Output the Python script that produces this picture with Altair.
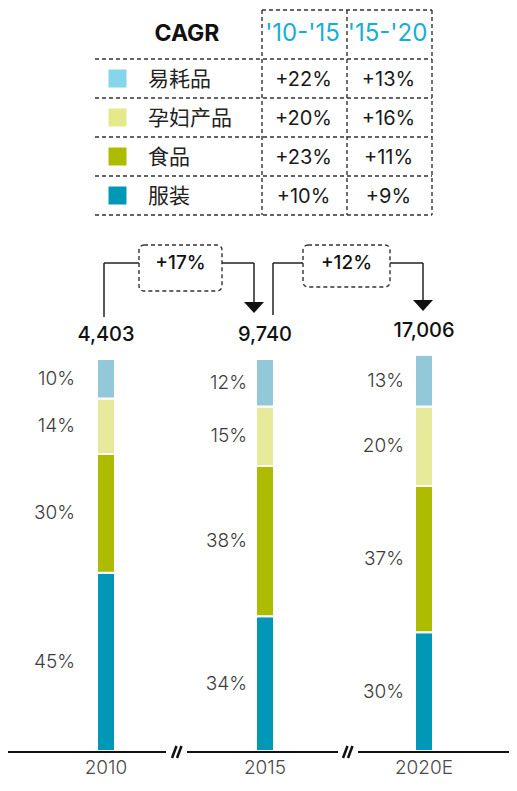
import altair as alt
import pandas as pd

# ---------------- data ----------------
categories = ["易耗品", "孕妇产品", "食品", "服装"]          # table order (top -> bottom)
cagr_periods = ["'10-'15", "'15-'20"]
cagr_10_15 = [22, 20, 23, 10]
cagr_15_20 = [13, 16, 11, 9]

years = ["2010", "2015", "2020E"]
totals = [4403, 9740, 17006]
share_consumables = [10, 12, 13]   # 易耗品
share_maternity = [14, 15, 20]     # 孕妇产品
share_food = [30, 38, 37]          # 食品
share_apparel = [45, 34, 30]       # 服装
period_growth = [17, 12]

# ---------------- styles / layout ----------------
legend_colors = ["#86D5E8", "#E4EA8A", "#ADBC00", "#0098B6"]
bar_colors = ["#92C8D7", "#E6EA9A", "#ADBC00", "#0098B6"]
CYAN = "#17AED5"
LATIN = "Inter"
CJK = "Noto Sans CJK SC"
DASH = [4, 3]
W, H = 501, 772

one = pd.DataFrame({"d": [0]})

# ---------------- table ----------------
tx = alt.Scale(domain=[0.5, 2.5], range=[254, 424], nice=False, zero=False, padding=0)
ty = alt.Scale(domain=[0.5, 4.5], range=[51, 207], nice=False, zero=False, padding=0)

row_df = pd.DataFrame({"category": categories, "row": list(range(1, len(categories) + 1))})
cell_rows = []
for r, cat in enumerate(categories, start=1):
    for c, vals in enumerate([cagr_10_15, cagr_15_20], start=1):
        cell_rows.append({"category": cat, "row": r, "col": c, "txt": f"+{vals[r - 1]}%"})
cell_df = pd.DataFrame(cell_rows)
head_df = pd.DataFrame({"period": cagr_periods, "col": [1, 2]})
hline_df = pd.DataFrame({"b": [k + 0.5 for k in range(len(categories) + 1)]})
vline_df = pd.DataFrame({"b": [0.5, 1.5, 2.5]})
top_df = pd.DataFrame({"a": [0.5], "b": [2.5]})

grid_style = dict(color="#333333", strokeWidth=1.4, strokeDash=DASH)

t_hlines = alt.Chart(hline_df).mark_rule(**grid_style).encode(
    y=alt.Y("b:Q", scale=ty, axis=None), x=alt.value(87), x2=alt.value(424))
t_vlines = alt.Chart(vline_df).mark_rule(**grid_style).encode(
    x=alt.X("b:Q", scale=tx, axis=None), y=alt.value(2), y2=alt.value(207))
t_top = alt.Chart(top_df).mark_rule(**grid_style).encode(
    x=alt.X("a:Q", scale=tx, axis=None), x2="b:Q", y=alt.value(2))
t_cagr = alt.Chart(one).mark_text(font=LATIN, fontSize=23, fontWeight="bold", color="#111111",
                                  align="center", baseline="middle").encode(
    x=alt.value(179), y=alt.value(26), text=alt.value("CAGR"))
t_head = alt.Chart(head_df).mark_text(font=LATIN, fontSize=24, color=CYAN, align="center",
                                      baseline="middle", dx=-2).encode(
    x=alt.X("col:Q", scale=tx, axis=None), y=alt.value(26), text="period:N")
t_sq = alt.Chart(row_df).mark_square(size=324, opacity=1).encode(
    x=alt.value(109.5), y=alt.Y("row:Q", scale=ty, axis=None),
    color=alt.Color("category:N", scale=alt.Scale(domain=categories, range=legend_colors), legend=None))
t_cat = alt.Chart(row_df).mark_text(font=CJK, fontSize=21, color="#222222", align="left",
                                    baseline="middle", dy=1).encode(
    x=alt.value(140), y=alt.Y("row:Q", scale=ty, axis=None), text="category:N")
t_val = alt.Chart(cell_df).mark_text(font=LATIN, fontSize=20, color="#1a1a1a", align="center",
                                     baseline="middle", dx=-1, dy=1).encode(
    x=alt.X("col:Q", scale=tx, axis=None), y=alt.Y("row:Q", scale=ty, axis=None), text="txt:N")

table = alt.layer(t_hlines, t_vlines, t_top, t_cagr, t_head, t_sq, t_cat, t_val)

# ---------------- stacked bars ----------------
BASE_Y = 743
bx = alt.Scale(domain=[0, 2], range=[98, 416], nice=False, zero=False, padding=0)
by = alt.Scale(domain=[0, 100], range=[BASE_Y, 347], nice=False, zero=False, padding=0)
STEP = (416 - 98) / 2
label_dx = [-31, -18, -20]   # right edge of % labels relative to bar centre (px)

stack_order = ["服装", "食品", "孕妇产品", "易耗品"]
shares = {"服装": share_apparel, "食品": share_food, "孕妇产品": share_maternity, "易耗品": share_consumables}
seg_rows = []
for i, yr in enumerate(years):
    base = 0
    for cat in stack_order:
        v = shares[cat][i]
        seg_rows.append({"year": yr, "i": i, "category": cat, "y0": base, "y1": base + v,
                         "mid": base + v / 2, "label": f"{v}%", "lx": i + label_dx[i] / STEP})
        base += v
seg_df = pd.DataFrame(seg_rows)
tot_df = pd.DataFrame({"year": years, "i": list(range(len(years))), "total": totals,
                       "top": [seg_df[seg_df.i == k].y1.max() for k in range(len(years))]})

bars = alt.Chart(seg_df).mark_bar(size=18, stroke="white", strokeWidth=2).encode(
    x=alt.X("i:Q", scale=bx, axis=None),
    y=alt.Y("y0:Q", scale=by, axis=None), y2="y1:Q",
    color=alt.Color("category:N", scale=alt.Scale(domain=categories, range=bar_colors), legend=None))
pct = alt.Chart(seg_df).mark_text(font=LATIN, fontSize=19, fontWeight=300, color="#3c3c3c",
                                  align="right", baseline="middle").encode(
    x=alt.X("lx:Q", scale=bx, axis=None), y=alt.Y("mid:Q", scale=by, axis=None), text="label:N")
tots = alt.Chart(tot_df).mark_text(font=LATIN, fontSize=20, fontWeight=500, color="#111111",
                                   align="center", baseline="middle", dy=-24).encode(
    x=alt.X("i:Q", scale=bx, axis=None), y=alt.Y("top:Q", scale=by, axis=None),
    text=alt.Text("total:Q", format=","))
yrs = alt.Chart(tot_df).mark_text(font=LATIN, fontSize=19, fontWeight=300, color="#4a4a4a",
                                  align="center", baseline="middle").encode(
    x=alt.X("i:Q", scale=bx, axis=None), y=alt.value(BASE_Y + 17), text="year:N")

deco = []
AX_Y = BASE_Y + 1
for a, b in [(0, 158), (179, 330), (350, W)]:
    deco.append(alt.Chart(one).mark_rule(color="#111111", strokeWidth=2.2).encode(
        x=alt.value(a), x2=alt.value(b), y=alt.value(AX_Y)))
for bx0 in [164, 335]:
    for off in [0, 5]:
        deco.append(alt.Chart(one).mark_rule(color="#111111", strokeWidth=2.6).encode(
            x=alt.value(bx0 + off), x2=alt.value(bx0 + off + 4.5),
            y=alt.value(AX_Y + 6), y2=alt.value(AX_Y - 6)))

arrows = [
    dict(lx=96, ly=309, bx1=131, bx2=214, by1=237, by2=283, rx=246, tip=305),
    dict(lx=265, ly=307, bx1=295, bx2=382, by1=237, by2=279, rx=415, tip=303),
]
LINE_Y = 255
for g, a in zip(period_growth, arrows):
    lc = dict(color="#222222", strokeWidth=1.5)
    deco.append(alt.Chart(one).mark_rule(**lc).encode(
        x=alt.value(a["lx"]), y=alt.value(LINE_Y), y2=alt.value(a["ly"])))
    deco.append(alt.Chart(one).mark_rule(**lc).encode(
        x=alt.value(a["lx"]), x2=alt.value(a["bx1"]), y=alt.value(LINE_Y)))
    deco.append(alt.Chart(one).mark_rule(**lc).encode(
        x=alt.value(a["bx2"]), x2=alt.value(a["rx"]), y=alt.value(LINE_Y)))
    deco.append(alt.Chart(one).mark_rule(**lc).encode(
        x=alt.value(a["rx"]), y=alt.value(LINE_Y), y2=alt.value(a["tip"] - 11)))
    deco.append(alt.Chart(one).mark_point(shape="M-1,-0.55L1,-0.55L0,0.55Z", size=400, filled=True,
                                          opacity=1, color="#111111").encode(
        x=alt.value(a["rx"]), y=alt.value(a["tip"] - 5.5)))
    deco.append(alt.Chart(one).mark_rect(fill="white", stroke="#333333", strokeWidth=1.4,
                                         strokeDash=DASH, cornerRadius=5).encode(
        x=alt.value(a["bx1"]), x2=alt.value(a["bx2"]), y=alt.value(a["by1"]), y2=alt.value(a["by2"])))
    deco.append(alt.Chart(one).mark_text(font=LATIN, fontSize=19, fontWeight=500, color="#111111",
                                         align="center", baseline="middle").encode(
        x=alt.value((a["bx1"] + a["bx2"]) / 2), y=alt.value(LINE_Y), text=alt.value(f"+{g}%")))

barpart = alt.layer(bars, pct, tots, yrs, *deco)

chart = alt.layer(table, barpart).resolve_scale(
    color="independent", x="independent", y="independent"
).properties(width=W, height=H, padding=0,
             autosize=alt.AutoSizeParams(type="none")).configure_view(stroke=None)

chart.save("out.html", embed_options={"renderer": "svg", "actions": False})
